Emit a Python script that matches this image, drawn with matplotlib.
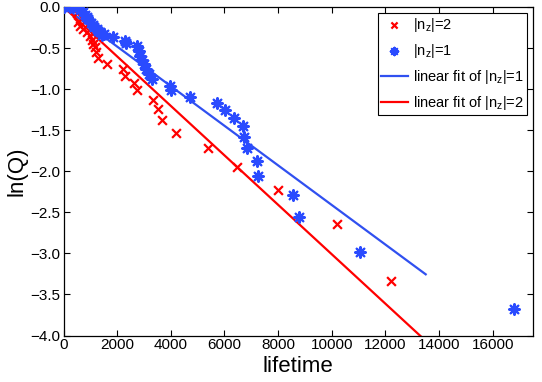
import matplotlib
matplotlib.use('Agg')
import matplotlib.pyplot as plt
from matplotlib.ticker import FuncFormatter
import numpy as np

plt.rcParams['font.family'] = ['Liberation Sans', 'DejaVu Sans']
plt.rcParams['mathtext.fontset'] = 'custom'
plt.rcParams['mathtext.rm'] = 'Liberation Sans'

# |n_z|=2 points
red_t = [430, 490, 550, 613, 737, 862, 985, 1048, 1085, 1170, 1208, 1270, 1605,
         2224, 2286, 2620, 2744, 3338, 3525, 3673, 4210, 5400, 6460, 8000,
         10180, 12200]
red_lnq = [0.0, -0.07, -0.18, -0.23, -0.27, -0.31, -0.35, -0.40, -0.45, -0.49,
           -0.55, -0.62, -0.69, -0.76, -0.84, -0.92, -1.01, -1.13, -1.24, -1.37,
           -1.53, -1.72, -1.95, -2.23, -2.64, -3.34]

# |n_z|=1 points
blue_t = [0, 250, 365, 500, 613, 737, 800, 870, 922, 1022, 1100, 1145, 1234,
          1300, 1357, 1443, 1500, 1851, 2286, 2330, 2757, 2807, 2844, 2930,
          3004, 3093, 3190, 3301, 3959, 3996, 4703, 5732, 6004, 6338, 6684,
          6721, 6847, 7219, 7242, 8543, 8792, 11059, 16784]
blue_lnq = [0.0, 0.0, 0.0, -0.01, -0.02, -0.06, -0.10, -0.12, -0.15, -0.20,
            -0.22, -0.24, -0.27, -0.29, -0.31, -0.34, -0.33, -0.36, -0.41,
            -0.44, -0.48, -0.53, -0.60, -0.64, -0.70, -0.76, -0.81, -0.88,
            -0.96, -1.01, -1.09, -1.17, -1.25, -1.35, -1.45, -1.58, -1.72,
            -1.87, -2.06, -2.29, -2.56, -2.98, -3.68]

# linear fits (slope, through origin) and range
fit_slope_1 = -2.411e-4
fit_slope_2 = -3.011e-4
fit_range = [0, 13500]

red = '#ff0000'
blue = '#2a4bff'

fig = plt.figure(figsize=(5.42, 3.82), dpi=100)
ax = fig.add_axes([0.1172, 0.1217, 0.8662, 0.86])

ax.scatter(red_t, red_lnq, marker='x', s=40, color=red, linewidths=1.6,
           label=r'|n$_\mathregular{z}$|=2', zorder=3)
ax.scatter(blue_t, blue_lnq, marker=(8, 2, 0), s=58, color=blue, linewidths=1.6,
           label=r'|n$_\mathregular{z}$|=1', zorder=3)

xf = np.array(fit_range)
ax.plot(xf, fit_slope_1 * xf, color='#3050f0', lw=1.6,
        label=r'linear fit of |n$_\mathregular{z}$|=1', zorder=2)
ax.plot(xf, fit_slope_2 * xf, color=red, lw=1.6,
        label=r'linear fit of |n$_\mathregular{z}$|=2', zorder=2)

ax.set_xlim(0, 17500)
ax.set_ylim(-4.0, 0.0)
ax.set_xticks(np.arange(0, 16001, 2000))
ax.set_yticks(np.arange(-4.0, 0.01, 0.5))
ax.yaxis.set_major_formatter(FuncFormatter(lambda v, p: ('%.1f' % v).replace('-', '\u2212')))
ax.tick_params(direction='in', top=True, right=True, length=4, width=0.8,
               labelsize=11, pad=2)
for s in ax.spines.values():
    s.set_linewidth(0.9)

ax.set_xlabel('lifetime', fontsize=16, labelpad=3)
ax.set_ylabel('ln(Q)', fontsize=16, labelpad=2)

leg = ax.legend(loc='upper right', fontsize=10.5, frameon=True, fancybox=False,
                edgecolor='black', framealpha=1, borderaxespad=0.4,
                handlelength=1.8, labelspacing=0.55, borderpad=0.2,
                handletextpad=0.4, scatterpoints=1, markerscale=0.7)
leg.get_frame().set_linewidth(0.8)

fig.savefig('out.png', dpi=100)
